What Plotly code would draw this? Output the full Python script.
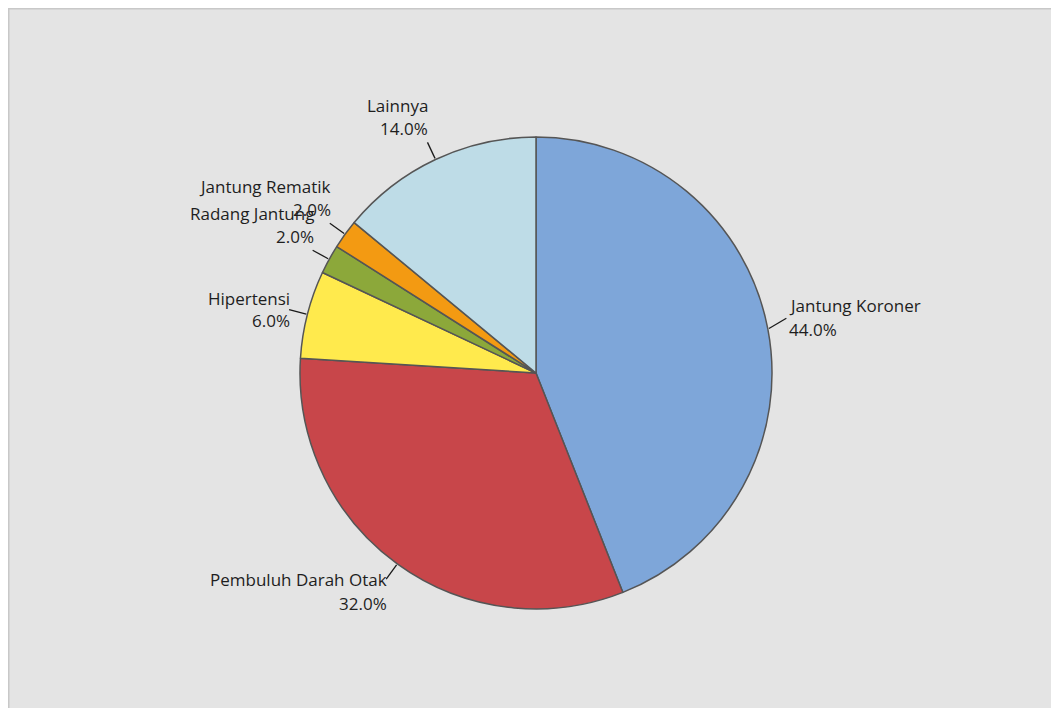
import math
import plotly.graph_objects as go

categories = ["Jantung Koroner", "Pembuluh Darah Otak", "Hipertensi",
              "Radang Jantung", "Jantung Rematik", "Lainnya"]
values = [44.0, 32.0, 6.0, 2.0, 2.0, 14.0]
colors = ["#7EA6D9", "#C8464A", "#FFEA4D", "#8CA83A", "#F39A12", "#BEDCE7"]

OFF = 8  # page body margin
W, H = 1059 - OFF, 708 - OFF
CX, CY, R = 536, 373, 236
FONT = dict(family="Open Sans, Noto Sans, sans-serif", size=17, color="#1e1e1e")


def px(x):
    return (x - OFF) / W


def py(y):
    return 1 - (y - OFF) / H


fig = go.Figure(go.Pie(
    labels=categories, values=values, sort=False, direction="clockwise",
    rotation=0, textinfo="none", hoverinfo="label+percent",
    marker=dict(colors=colors, line=dict(color="#555555", width=1.5)),
    domain=dict(x=[px(CX - R), px(CX + R)], y=[py(CY + R), py(CY - R)]),
    showlegend=False,
))

shapes = [dict(type="rect", xref="paper", yref="paper", x0=0, y0=-0.02, x1=1.02, y1=1,
               fillcolor="#E4E4E4", line=dict(color="#C8C8C8", width=3), layer="below")]
annotations = []
total = sum(values)
cum = 0.0
for name, v in zip(categories, values):
    mid = (cum + v / 2) / total * 2 * math.pi
    cum += v
    s, c = math.sin(mid), math.cos(mid)
    sx, sy = CX + R * 1.005 * s, CY - R * 1.005 * c
    ex, ey = CX + R * 1.08 * s, CY - R * 1.08 * c
    pct = f"{v / total * 100:.1f}%"
    if s > 0:
        ey -= 7
        tx, xa = ex + 1, "left"
        y1, y2 = ey - 13, ey + 11
    else:
        tx, xa = ex + 3, "right"
        if c > 0.4:
            y2 = ey - 14
            y1 = y2 - 23
        elif c < -0.4:
            y1 = ey
            y2 = ey + 24
        else:
            y1, y2 = ey - 11, ey + 11
    shapes.append(dict(type="line", xref="paper", yref="paper", x0=px(sx), y0=py(sy), x1=px(ex), y1=py(ey),
                       line=dict(color="#1a1a1a", width=1.3)))
    for txt, yy in ((name, y1), (pct, y2)):
        annotations.append(dict(text=txt, x=px(tx), y=py(yy), xref="paper", yref="paper",
                                xanchor=xa, yanchor="middle", showarrow=False, font=FONT))

fig.update_layout(width=W, height=H, margin=dict(l=0, r=0, t=0, b=0),
                  paper_bgcolor="white", plot_bgcolor="white",
                  shapes=shapes, annotations=annotations)
fig.write_html("out.html")
